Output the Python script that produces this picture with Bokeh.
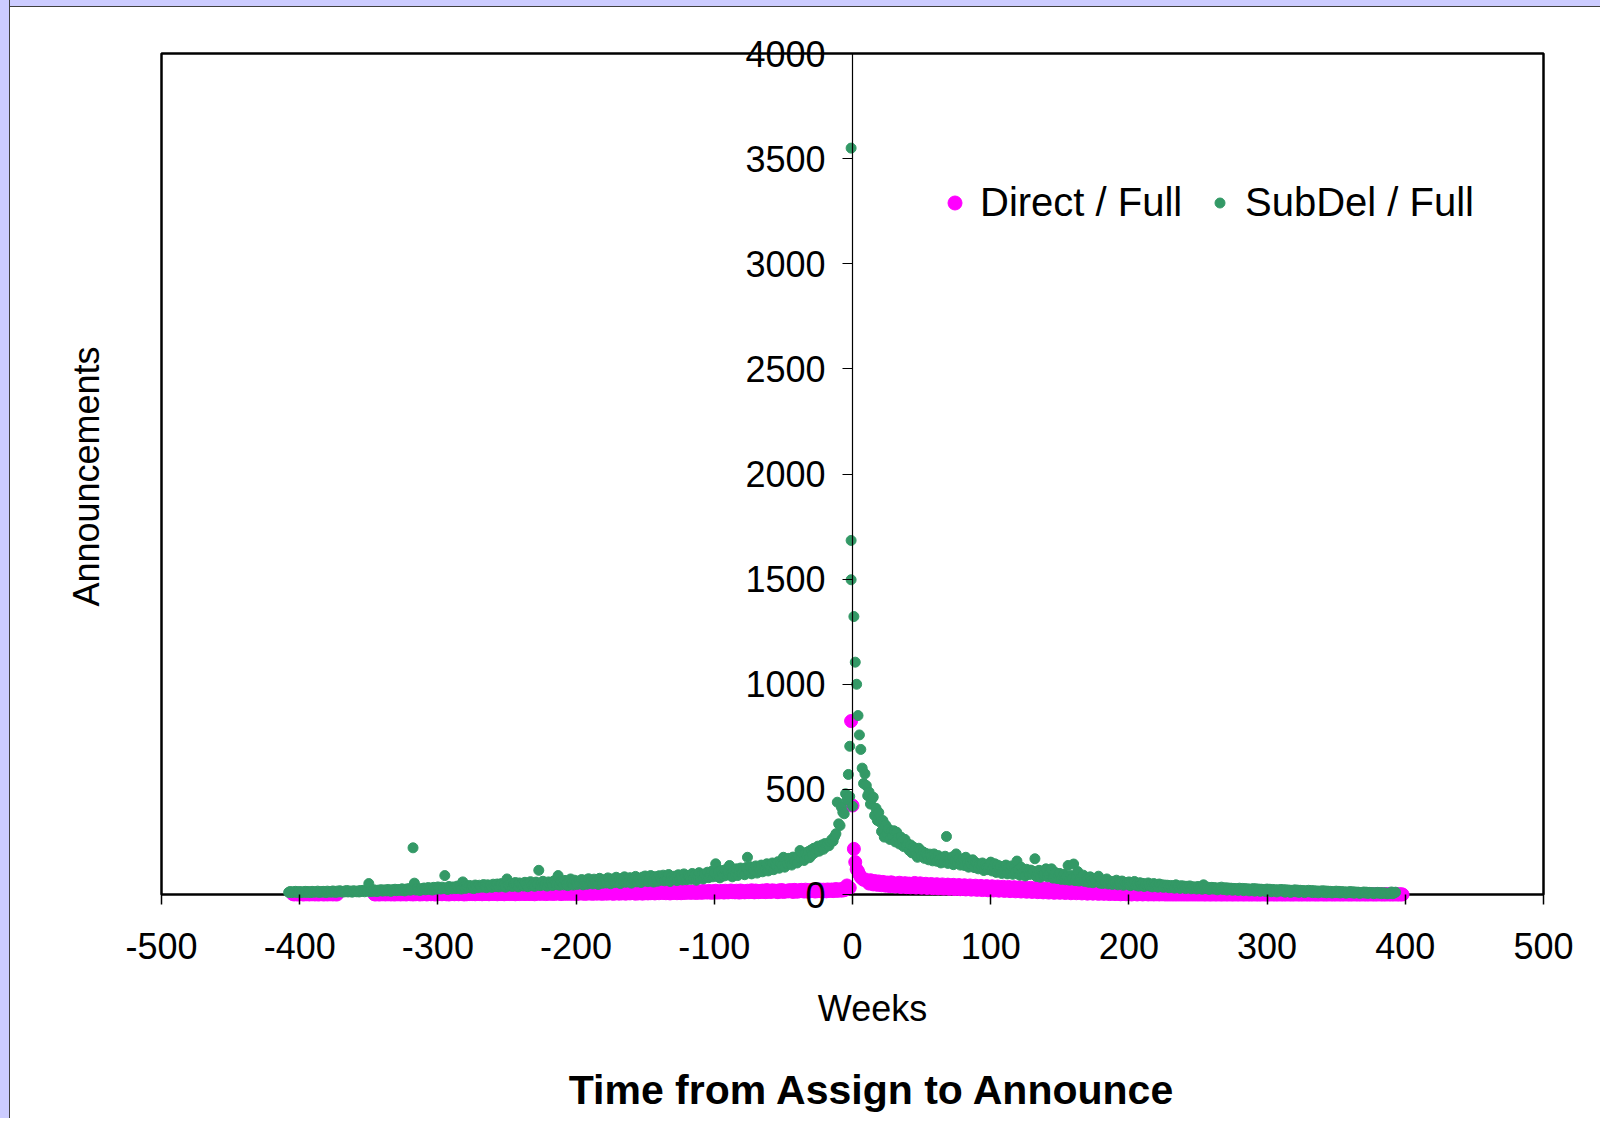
from bokeh.plotting import figure
from bokeh.layouts import column
from bokeh.models import (Range1d, LinearAxis, FixedTicker, Legend, LegendItem,
                          ColumnDataSource, Label, BoxAnnotation)
from bokeh.embed import file_html
from bokeh.resources import INLINE

FONT = "Liberation Sans"

# ---------------- data ----------------
x_ticks = [-500, -400, -300, -200, -100, 0, 100, 200, 300, 400, 500]
x_tick_labels = ["-500", "-400", "-300", "-200", "-100", "0", "100", "200", "300", "400", "500"]
y_ticks = [0, 500, 1000, 1500, 2000, 2500, 3000, 3500, 4000]
y_tick_labels = ["0", "500", "1000", "1500", "2000", "2500", "3000", "3500", "4000"]
x_min, x_max = -500, 500
y_min, y_max = 0, 4000

# SubDel / Full : weekly counts, weeks -408 .. -1
subdel_start_left = -408
subdel_left = [
    10, 14, 9, 13, 11, 15, 10, 12, 14, 9,
    13, 11, 15, 10, 14, 12, 9, 15, 11, 13,
    12, 16, 10, 14, 11, 15, 13, 9, 16, 12,
    14, 11, 17, 13, 10, 16, 12, 18, 14, 11,
    16, 13, 19, 12, 17, 14, 11, 18, 15, 13,
    17, 12, 19, 15, 20, 13, 18, 16, 52, 14,
    19, 15, 22, 17, 14, 21, 18, 23, 16, 20,
    22, 17, 24, 19, 15, 23, 20, 25, 18, 22,
    24, 19, 27, 21, 17, 26, 22, 28, 20, 24,
    222, 54, 21, 29, 23, 19, 28, 25, 31, 22,
    27, 33, 24, 30, 21, 34, 28, 25, 36, 30,
    26, 35, 29, 90, 32, 24, 38, 31, 27, 36,
    33, 28, 40, 30, 37, 26, 60, 35, 29, 41,
    34, 43, 31, 39, 28, 45, 36, 32, 44, 38,
    35, 47, 40, 32, 46, 37, 43, 34, 49, 41,
    38, 50, 36, 45, 52, 39, 47, 35, 74, 44,
    41, 53, 38, 49, 57, 43, 36, 55, 46, 51,
    40, 58, 47, 37, 54, 61, 44, 50, 39, 59,
    48, 115, 42, 56, 63, 45, 52, 40, 60, 49,
    58, 43, 65, 51, 47, 90, 44, 62, 55, 46,
    67, 50, 42, 61, 74, 53, 45, 68, 57, 48,
    64, 52, 71, 46, 59, 69, 49, 75, 56, 62,
    50, 73, 58, 66, 48, 77, 60, 53, 70, 63,
    55, 79, 61, 51, 74, 67, 57, 82, 59, 68,
    52, 76, 65, 84, 58, 71, 62, 80, 54, 73,
    66, 86, 60, 75, 69, 57, 83, 64, 88, 70,
    61, 78, 90, 67, 59, 85, 72, 63, 89, 76,
    68, 92, 65, 81, 74, 95, 62, 84, 71, 87,
    77, 66, 94, 73, 86, 69, 98, 79, 70, 91,
    82, 72, 100, 76, 93, 68, 88, 104, 78, 96,
    74, 98, 85, 106, 80, 92, 110, 84, 102, 146,
    86, 108, 79, 114, 95, 88, 118, 92, 104, 138,
    99, 84, 114, 96, 122, 90, 108, 126, 101, 116,
    94, 128, 177, 105, 132, 98, 119, 110, 136, 102,
    124, 115, 140, 108, 130, 120, 146, 112, 135, 126,
    150, 118, 142, 134, 156, 125, 147, 138, 177, 130,
    160, 145, 172, 152, 140, 178, 158, 168, 150, 184,
    209, 170, 192, 162, 198, 180, 204, 175, 212, 190,
    220, 200, 214, 230, 206, 225, 236, 215, 242, 228,
    241, 232, 249, 262, 254, 275, 289, 439, 336, 328,
    415, 391, 384, 479, 450, 571, 705, 3550,
]
# SubDel / Full : weekly counts, weeks 0 .. 393
subdel_start_right = 0
subdel_right = [
    420, 1322, 1105, 1000, 851, 759, 690, 601, 528, 574,
    518, 470, 487, 430, 455, 463, 376, 410, 352, 390,
    344, 300, 352, 273, 330, 290, 312, 262, 300, 280,
    303, 250, 296, 270, 240, 273, 255, 228, 262, 233,
    241, 210, 236, 198, 226, 212, 188, 177, 220, 209,
    186, 203, 172, 196, 185, 165, 192, 180, 160, 193,
    176, 158, 185, 168, 150, 176, 154, 182, 276, 148,
    166, 155, 178, 142, 162, 193, 150, 170, 140, 160,
    170, 138, 177, 148, 130, 156, 143, 165, 128, 152,
    146, 122, 145, 136, 150, 114, 140, 128, 118, 138,
    154, 112, 130, 146, 105, 140, 122, 134, 100, 130,
    122, 140, 98, 128, 112, 136, 96, 124, 108, 159,
    118, 92, 130, 104, 112, 88, 120, 106, 95, 116,
    98, 110, 170, 86, 104, 115, 82, 108, 94, 100,
    122, 84, 98, 110, 122, 78, 95, 104, 76, 92,
    100, 72, 88, 96, 70, 84, 138, 68, 90, 76,
    145, 66, 85, 109, 64, 80, 72, 92, 62, 78,
    70, 58, 84, 66, 56, 76, 62, 72, 87, 54,
    70, 52, 66, 60, 74, 50, 64, 58, 48, 62,
    56, 68, 46, 60, 52, 64, 44, 58, 50, 55,
    60, 42, 57, 48, 62, 44, 52, 40, 56, 46,
    53, 38, 50, 44, 55, 40, 48, 36, 52, 42,
    48, 35, 50, 40, 46, 34, 45, 38, 44, 32,
    43, 36, 42, 30, 46, 38, 40, 29, 42, 34,
    40, 28, 39, 33, 41, 27, 37, 31, 36, 26,
    38, 30, 34, 25, 46, 32, 28, 35, 24, 31,
    34, 26, 33, 29, 22, 32, 28, 35, 24, 30,
    32, 21, 31, 27, 30, 20, 29, 25, 28, 19,
    30, 24, 29, 18, 28, 23, 27, 17, 26, 22,
    28, 16, 27, 21, 26, 15, 25, 20, 24, 14,
    26, 19, 25, 13, 24, 18, 23, 12, 22, 17,
    24, 16, 23, 11, 22, 15, 21, 10, 20, 14,
    22, 13, 21, 10, 20, 14, 19, 9, 18, 13,
    20, 12, 19, 9, 18, 11, 17, 8, 16, 12,
    18, 10, 17, 8, 16, 11, 15, 7, 14, 10,
    16, 9, 15, 7, 14, 10, 13, 6, 12, 9,
    14, 8, 13, 6, 12, 9, 11, 5, 10, 8,
    12, 7, 11, 5, 10, 8, 9, 4, 8, 7,
    10, 6, 9, 4, 8, 7, 7, 3, 6, 5,
    12, 4, 8, 11,
]
# second SubDel points seen at the same weeks around the peak
subdel_extra_weeks = [-1, -1, -2]
subdel_extra = [1684, 1497, 466]

# Direct / Full : weekly counts
direct_start_a = -405
direct_a = [
    2, 0, 3, 1, 0, 4, 2, 1, 0, 3,
    1, 2, 0, 4, 1, 3, 0, 2, 1, 0,
    3, 2, 0, 1, 4, 0, 2, 1, 3, 0,
    2, 1, 0,
]
direct_start_b = -346
direct_b = [
    1, 0, 3, 1, 0, 4, 1, 2, 0, 3,
    1, 4, 0, 2, 1, 0, 4, 1, 3, 0,
    2, 1, 4, 0, 2, 5, 1, 3, 0, 4,
    1, 4, 2, 0, 5, 1, 3, 4, 0, 2,
    4, 1, 5, 2, 0, 4, 1, 5, 2, 1,
    3, 5, 1, 4, 0, 6, 2, 4, 1, 5,
    3, 1, 6, 2, 5, 0, 4, 1, 6, 2,
    5, 2, 6, 1, 4, 7, 2, 5, 1, 3,
    2, 6, 3, 1, 5, 7, 2, 4, 6, 1,
    5, 2, 7, 3, 1, 6, 3, 8, 2, 4,
    6, 3, 1, 8, 4, 2, 9, 3, 6, 2,
    5, 9, 2, 6, 3, 8, 1, 5, 9, 3,
    7, 3, 6, 10, 2, 5, 9, 3, 7, 4,
    3, 8, 4, 10, 6, 2, 9, 4, 7, 3,
    9, 4, 7, 3, 11, 6, 2, 8, 4, 9,
    5, 10, 3, 7, 4, 12, 5, 8, 3, 7,
    10, 4, 8, 5, 12, 3, 7, 10, 4, 8,
    5, 11, 6, 3, 10, 6, 13, 4, 8, 5,
    11, 6, 4, 9, 13, 5, 8, 12, 6, 4,
    10, 5, 13, 8, 4, 11, 6, 14, 5, 9,
    6, 12, 8, 5, 14, 9, 6, 11, 15, 7,
    11, 6, 14, 9, 5, 13, 7, 15, 9, 6,
    13, 8, 6, 15, 10, 7, 16, 11, 8, 13,
    8, 15, 11, 7, 16, 9, 13, 8, 17, 10,
    14, 9, 17, 12, 8, 16, 10, 18, 9, 13,
    10, 17, 12, 9, 18, 13, 10, 15, 19, 11,
    15, 10, 18, 13, 9, 19, 11, 16, 10, 14,
    18, 11, 14, 20, 12, 10, 19, 14, 11, 17,
    12, 19, 15, 11, 21, 13, 17, 12, 20, 15,
    18, 13, 11, 20, 15, 21, 12, 17, 14, 19,
    15, 21, 16, 12, 22, 18, 13, 20, 16, 22,
    19, 14, 23, 17, 13, 21, 16, 22, 19, 14,
    21, 16, 24, 18, 14, 23, 19, 15, 24, 17,
    20, 24, 16, 22, 26, 17, 21, 25, 18, 27,
    20, 25, 43, 28, 32, 825,
]
direct_start_c = 0
direct_c = [
    423,
    217, 154, 120, 110, 95, 82, 76, 70, 72, 66,
    63, 52, 68, 60, 48, 64, 58, 46, 62, 56,
    44, 60, 55, 42, 57, 52, 40, 58, 48, 54,
    38, 51, 45, 56, 36, 49, 43, 54, 35, 47,
    52, 34, 48, 42, 55, 33, 46, 40, 53, 32,
    45, 38, 51, 31, 44, 37, 50, 30, 43, 36,
    49, 29, 42, 35, 48, 28, 41, 34, 47, 27,
    40, 33, 46, 26, 39, 32, 45, 25, 38, 31,
    44, 24, 37, 30, 43, 23, 36, 29, 42, 22,
    35, 28, 41, 21, 34, 27, 40, 20, 33, 26,
    39, 19, 32, 25, 38, 18, 31, 24, 37, 17,
    30, 23, 36, 16, 29, 22, 35, 15, 28, 21,
    34, 14, 27, 20, 33, 13, 26, 19, 32, 12,
    25, 18, 31, 11, 24, 17, 30, 10, 23, 16,
    29, 9, 22, 15, 28, 8, 21, 14, 27, 8,
    20, 13, 26, 7, 19, 12, 25, 6, 18, 11,
    24, 6, 17, 10, 23, 5, 16, 9, 22, 4,
    15, 8, 21, 4, 14, 7, 20, 3, 13, 6,
    19, 3, 12, 6, 18, 2, 11, 5, 17, 2,
    10, 4, 16, 1, 9, 4, 15, 1, 8, 3,
    14, 0, 8, 3, 13, 0, 7, 2, 12, 0,
    6, 2, 11, 0, 6, 1, 10, 0, 5, 1,
    9, 0, 5, 1, 8, 0, 4, 0, 7, 0,
    4, 0, 6, 0, 3, 0, 6, 0, 3, 0,
    5, 0, 2, 0, 5, 0, 2, 0, 4, 0,
    2, 0, 4, 0, 1, 0, 3, 0, 1, 0,
    3, 0, 1, 0, 3, 0, 1, 0, 2, 0,
    1, 0, 2, 0, 1, 0, 2, 0, 1, 0,
    2, 0, 1, 0, 2, 0, 1, 0, 1, 0,
    2, 0, 1, 0, 1, 0, 2, 0, 1, 0,
    1, 0, 2, 0, 1, 0, 1, 0, 2, 0,
    1, 0, 1, 0, 2, 0, 1, 0, 1, 0,
    2, 0, 1, 0, 1, 0, 2, 0, 1, 0,
    1, 0, 2, 0, 1, 0, 1, 0, 2, 0,
    1, 0, 1, 0, 2, 0, 1, 0, 1, 0,
    2, 0, 1, 0, 1, 0, 2, 0, 1, 0,
    1, 0, 2, 0, 1, 0, 1, 0, 2, 0,
    1, 0, 1, 0, 2, 0, 1, 0, 1, 0,
    2, 0, 1, 0, 1, 0, 2, 0, 1, 0,
    1, 0, 2, 0, 1, 0, 1, 0,
]

# ---------------- sources ----------------
subdel_weeks = (list(range(subdel_start_left, subdel_start_left + len(subdel_left)))
                + list(range(subdel_start_right, subdel_start_right + len(subdel_right)))
                + subdel_extra_weeks)
subdel_counts = subdel_left + subdel_right + subdel_extra

direct_weeks = (list(range(direct_start_a, direct_start_a + len(direct_a)))
                + list(range(direct_start_b, direct_start_b + len(direct_b)))
                + list(range(direct_start_c, direct_start_c + len(direct_c))))
direct_counts = direct_a + direct_b + direct_c

src_direct = ColumnDataSource(dict(week=direct_weeks, count=direct_counts))
src_subdel = ColumnDataSource(dict(week=subdel_weeks, count=subdel_counts))

# ---------------- layout (pixels on the page) ----------------
PAD_L, PAD_T = 10, 7                # lavender strip + thin dark edge of the white panel
FIG_W, FIG_H = 1590, 1111
BOX_L, BOX_R, BOX_T, BOX_B = 161, 1543, 53, 894   # plot-area box on the page

# the frame fills the whole canvas; ranges chosen so the plot box lands on BOX_*
kx = (BOX_R - BOX_L) / (x_max - x_min)
ky = (BOX_B - BOX_T) / (y_max - y_min)
x_range = Range1d(x_min - (BOX_L - PAD_L) / kx, x_max + (PAD_L + FIG_W - BOX_R) / kx)
y_range = Range1d(y_min - (PAD_T + FIG_H - BOX_B) / ky, y_max + (BOX_T - PAD_T) / ky)

p = figure(width=FIG_W, height=FIG_H, x_range=x_range, y_range=y_range,
           x_axis_location=None, y_axis_location=None,
           output_backend="svg", toolbar_location=None,
           min_border=0, min_border_left=0, min_border_right=0,
           min_border_top=0, min_border_bottom=0)
p.background_fill_color = "white"
p.border_fill_color = "white"
p.outline_line_color = None
p.xgrid.visible = False
p.ygrid.visible = False

# plot-area box
p.add_layout(BoxAnnotation(left=x_min, right=x_max, bottom=y_min, top=y_max,
                           fill_alpha=0, line_color="black", line_alpha=1.0,
                           line_width=2.5, level="underlay"))

# x axis along y = 0
xax = LinearAxis(fixed_location=0, bounds=(x_min, x_max + 29),
                 ticker=FixedTicker(ticks=x_ticks),
                 major_label_overrides={t: l for t, l in zip(x_ticks, x_tick_labels)},
                 axis_label="Weeks",
                 axis_line_color=None,
                 major_tick_in=0, major_tick_out=10,
                 major_tick_line_color="black", major_tick_line_width=1.5,
                 minor_tick_line_color=None,
                 major_label_standoff=28,
                 major_label_text_font=FONT, major_label_text_font_size="36px",
                 major_label_text_color="black",
                 axis_label_text_font=FONT, axis_label_text_font_size="36px",
                 axis_label_text_font_style="normal", axis_label_text_color="black",
                 axis_label_standoff=26)
p.add_layout(xax, "below")

# "Announcements" title beside the left edge of the box
ylab = LinearAxis(fixed_location=x_min, bounds=(y_min - 24, y_max),
                  ticker=FixedTicker(ticks=[]),
                  axis_label="Announcements",
                  axis_line_color=None, major_tick_line_color=None,
                  minor_tick_line_color=None,
                  major_tick_in=0, major_tick_out=0, minor_tick_in=0, minor_tick_out=0,
                  major_label_standoff=0,
                  axis_label_text_font=FONT, axis_label_text_font_size="36px",
                  axis_label_text_font_style="normal", axis_label_text_color="black",
                  axis_label_standoff=55)
p.add_layout(ylab, "left")

# value axis crossing at week 0
yax = LinearAxis(fixed_location=0, bounds=(y_min, y_max),
                 ticker=FixedTicker(ticks=y_ticks),
                 major_label_overrides={t: l for t, l in zip(y_ticks, y_tick_labels)},
                 axis_line_color="black", axis_line_width=1.2,
                 major_tick_in=0, major_tick_out=10,
                 major_tick_line_color="black", major_tick_line_width=1.2,
                 minor_tick_line_color=None,
                 major_label_standoff=17,
                 major_label_text_font=FONT, major_label_text_font_size="36px",
                 major_label_text_color="black",
                 level="overlay")
p.add_layout(yax, "left")

r_direct = p.scatter(x="week", y="count", source=src_direct, size=13,
                     marker="circle", fill_color="#FF00FF", line_color="#FF00FF")
r_subdel = p.scatter(x="week", y="count", source=src_subdel, size=10,
                     marker="circle", fill_color="#339966", line_color="#339966")

common = dict(border_line_color=None, background_fill_alpha=0, padding=0, margin=0,
              spacing=0, label_text_font=FONT, label_text_font_size="40px",
              label_text_color="black", orientation="horizontal")
leg_y = 669 + (PAD_T + FIG_H - BOX_B)
leg1 = Legend(items=[LegendItem(label="Direct / Full", renderers=[r_direct])],
              location=(776 + BOX_L - PAD_L, leg_y), glyph_width=35, glyph_height=35,
              label_standoff=8, **common)
leg2 = Legend(items=[LegendItem(label="SubDel / Full", renderers=[r_subdel])],
              location=(1046 + BOX_L - PAD_L, leg_y), glyph_width=25, glyph_height=25,
              label_standoff=13, **common)
p.add_layout(leg1, "center")
p.add_layout(leg2, "center")

p.add_layout(Label(x=872 - PAD_L, y=PAD_T + FIG_H - 1089, x_units="screen", y_units="screen",
                   text="Time from Assign to Announce", text_align="center",
                   text_baseline="middle", text_font=FONT, text_font_style="bold",
                   text_font_size="41px", text_color="black"))

# lavender page strip on the left and top, with a thin dark edge to the white panel
bg = ("linear-gradient(to right, #CCCCFF 0px, #CCCCFF 9px, #404040 9px, #404040 10px, "
      "transparent 10px), "
      "linear-gradient(to bottom, #CCCCFF 0px, #CCCCFF 6px, #404040 6px, #404040 7px, "
      "#FFFFFF 7px)")
page = column(p, styles={"background": bg,
                         "padding-left": f"{PAD_L}px", "padding-top": f"{PAD_T}px"})

open("out.html", "w").write(file_html(page, INLINE))
